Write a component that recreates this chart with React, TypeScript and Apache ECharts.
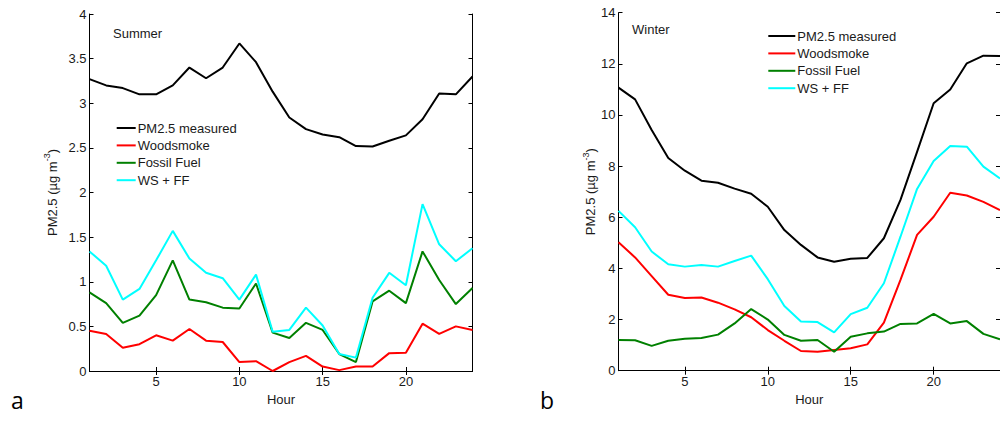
import React, { useEffect, useRef } from "react";
import * as echarts from "echarts";

// Hour of day (1..24)
const hours = [1, 2, 3, 4, 5, 6, 7, 8, 9, 10, 11, 12, 13, 14, 15, 16, 17, 18, 19, 20, 21, 22, 23, 24];

// Summer diurnal profiles (µg m-3)
const summerMeasured = [3.27, 3.2, 3.17, 3.1, 3.1, 3.2, 3.4, 3.28, 3.4, 3.67, 3.46, 3.13, 2.84, 2.71, 2.65, 2.62, 2.52, 2.515, 2.58, 2.64, 2.82, 3.11, 3.1, 3.3];
const summerWoodsmoke = [0.45, 0.415, 0.26, 0.3, 0.4, 0.34, 0.47, 0.34, 0.325, 0.1, 0.11, 0.0, 0.1, 0.17, 0.05, 0.01, 0.05, 0.05, 0.2, 0.205, 0.53, 0.415, 0.5, 0.46];
const summerFossil = [0.88, 0.76, 0.54, 0.62, 0.85, 1.24, 0.8, 0.77, 0.71, 0.7, 0.98, 0.43, 0.37, 0.54, 0.46, 0.19, 0.1, 0.78, 0.9, 0.76, 1.34, 1.02, 0.75, 0.93];
const summerWsFf = [1.34, 1.18, 0.8, 0.92, 1.24, 1.57, 1.26, 1.1, 1.04, 0.8, 1.08, 0.44, 0.46, 0.71, 0.51, 0.19, 0.15, 0.82, 1.1, 0.96, 1.87, 1.42, 1.23, 1.375];

// Winter diurnal profiles (µg m-3)
const winterMeasured = [11.07, 10.61, 9.41, 8.32, 7.82, 7.43, 7.35, 7.12, 6.92, 6.41, 5.5, 4.92, 4.43, 4.26, 4.38, 4.41, 5.18, 6.68, 8.56, 10.46, 11.0, 12.02, 12.32, 12.31];
const winterWoodsmoke = [5.02, 4.43, 3.7, 2.97, 2.84, 2.86, 2.66, 2.4, 2.09, 1.59, 1.17, 0.77, 0.74, 0.81, 0.875, 1.03, 1.88, 3.55, 5.31, 6.02, 6.96, 6.85, 6.6, 6.28];
const winterFossil = [1.2, 1.19, 0.97, 1.17, 1.25, 1.28, 1.41, 1.85, 2.41, 2.0, 1.4, 1.17, 1.2, 0.74, 1.33, 1.46, 1.53, 1.83, 1.85, 2.22, 1.85, 1.94, 1.44, 1.23];
const winterWsFf = [6.25, 5.61, 4.66, 4.16, 4.07, 4.13, 4.07, 4.29, 4.5, 3.58, 2.53, 1.92, 1.9, 1.5, 2.21, 2.46, 3.42, 5.24, 7.11, 8.2, 8.79, 8.76, 7.98, 7.52];

const seriesNames = ["PM2.5 measured", "Woodsmoke", "Fossil Fuel", "WS + FF"];
const seriesColors = ["#000000", "#ff0000", "#008000", "#00ffff"];
const hourTicks = [5, 10, 15, 20];

const FONT = "'Liberation Sans', Arial, sans-serif";
const TXT = "#1a1a1a";
const PANEL_FONT = "'Open Sans', 'Noto Sans', sans-serif";

const pairs = (vals: number[]) => hours.map((h, i) => [h, vals[i]]);

function buildAxes(gridIndex: number, yMax: number, yInterval: number, nameGap: number) {
  const line = { show: true, lineStyle: { color: "#000", width: 1 } };
  const xBase = {
    type: "value" as const,
    gridIndex,
    min: 1,
    max: 24,
    splitLine: { show: false },
    axisLine: line,
  };
  const yBase = {
    type: "value" as const,
    gridIndex,
    min: 0,
    max: yMax,
    interval: yInterval,
    splitLine: { show: false },
    axisLine: line,
  };
  const xAxes = [
    {
      ...xBase,
      position: "bottom",
      axisTick: { inside: true, length: 4, customValues: hourTicks, lineStyle: { color: "#000" } },
      axisLabel: { customValues: hourTicks, margin: 4, fontSize: 13, color: TXT, fontFamily: FONT },
      name: "Hour",
      nameLocation: "middle",
      nameGap: 12,
      nameTextStyle: { fontSize: 13, color: TXT, fontFamily: FONT },
    },
    {
      ...xBase,
      position: "top",
      axisTick: { inside: true, length: 4, customValues: hourTicks, lineStyle: { color: "#000" } },
      axisLabel: { show: false },
    },
  ];
  const yAxes = [
    {
      ...yBase,
      position: "left",
      axisTick: { inside: true, length: 4, lineStyle: { color: "#000" } },
      axisLabel: { margin: 3, fontSize: 13, color: TXT, fontFamily: FONT },
      name: "{n|PM2.5 (µg m}{s|-3}{n|)}",
      nameLocation: "middle",
      nameGap,
      nameTextStyle: {
        fontFamily: FONT,
        color: TXT,
        rich: {
          n: { fontSize: 13, fontFamily: FONT, color: TXT, lineHeight: 16, verticalAlign: "bottom" },
          s: { fontSize: 9, fontFamily: FONT, color: TXT, lineHeight: 16, verticalAlign: "top" },
        },
      },
    },
    {
      ...yBase,
      position: "right",
      axisTick: { inside: true, length: 4, lineStyle: { color: "#000" } },
      axisLabel: { show: false },
    },
  ];
  return { xAxes, yAxes };
}

function buildSeries(values: number[][], xAxisIndex: number, yAxisIndex: number) {
  return values.map((vals, i) => ({
    type: "line",
    name: seriesNames[i],
    xAxisIndex,
    yAxisIndex,
    data: pairs(vals),
    symbol: "none",
    lineStyle: { color: seriesColors[i], width: 2 },
    itemStyle: { color: seriesColors[i] },
  }));
}

export default function App() {
  const ref = useRef<HTMLDivElement>(null);

  useEffect(() => {
    if (!ref.current) return;
    const chart = echarts.init(ref.current, undefined, { renderer: "svg" });

    const a = buildAxes(0, 4, 0.5, 31);
    const b = buildAxes(1, 14, 2, 20);

    // Legend rows: a short 2px line swatch followed by the series name
    const legendBase = {
      orient: "vertical" as const,
      data: seriesNames,
      icon: "rect",
      itemHeight: 2,
      itemGap: 4.4,
      selectedMode: false,
      textStyle: { fontSize: 13, color: TXT, fontFamily: FONT, lineHeight: 13, padding: [0, 0, 0, -3] },
    };

    chart.setOption({
      animation: false,
      backgroundColor: "#ffffff",
      grid: [
        { left: 89.5, top: 14, width: 383, height: 357 },
        { left: 618.5, top: 12.7, width: 384, height: 358 },
      ],
      xAxis: [...a.xAxes, ...b.xAxes.map((x) => ({ ...x, gridIndex: 1 }))],
      yAxis: [...a.yAxes, ...b.yAxes.map((y) => ({ ...y, gridIndex: 1 }))],
      title: [
        { text: "Summer", left: 113, top: 27, textStyle: { fontSize: 13, fontWeight: "normal", color: TXT, fontFamily: FONT }, padding: 0 },
        { text: "Winter", left: 632, top: 22.5, textStyle: { fontSize: 13, fontWeight: "normal", color: TXT, fontFamily: FONT }, padding: 0 },
      ],
      legend: [
        { ...legendBase, left: 116.7, top: 121.5, itemWidth: 19, padding: 0 },
        { ...legendBase, left: 768.3, top: 29.5, itemWidth: 27, padding: 0 },
      ],
      graphic: [
        { type: "text", left: 11, top: 388, style: { text: "a", fontSize: 23, lineHeight: 23, fontFamily: PANEL_FONT, fill: "#000" } },
        { type: "text", left: 540, top: 388, style: { text: "b", fontSize: 23, lineHeight: 23, fontFamily: PANEL_FONT, fill: "#000" } },
      ],
      series: [
        ...buildSeries([summerMeasured, summerWoodsmoke, summerFossil, summerWsFf], 0, 0),
        ...buildSeries([winterMeasured, winterWoodsmoke, winterFossil, winterWsFf], 2, 2),
      ],
    });

    return () => chart.dispose();
  }, []);

  return (
    <div
      ref={ref}
      style={{ position: "fixed", left: 0, top: 0, width: 1000, height: 421, background: "#fff" }}
    />
  );
}
